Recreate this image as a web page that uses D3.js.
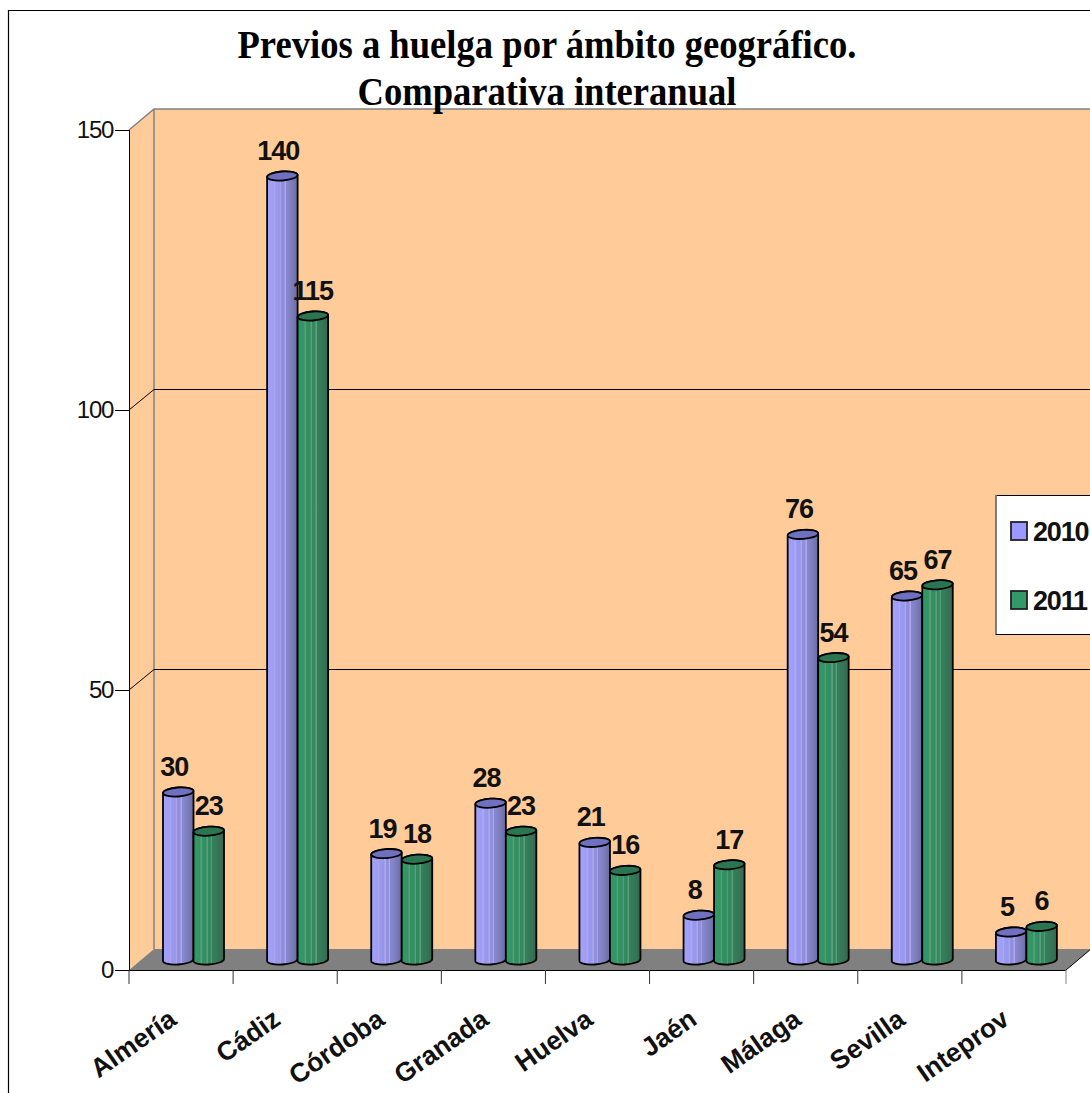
<!DOCTYPE html>
<html>
<head>
<meta charset="utf-8">
<script src="https://cdn.jsdelivr.net/npm/d3@7"></script>
<style>
  html, body { margin: 0; padding: 0; background: white; overflow: hidden; }
  svg { display: block; }
</style>
</head>
<body>
<div id="wrapper"></div>
<script>
const categories = ["Almería", "Cádiz", "Córdoba", "Granada", "Huelva", "Jaén", "Málaga", "Sevilla", "Inteprov"]
const seriesNames = ["2010", "2011"]
const values2010 = [30, 140, 19, 28, 21, 8, 76, 65, 5]
const values2011 = [23, 115, 18, 23, 16, 17, 54, 67, 6]
const yTicks = [0, 50, 100, 150]
const titleLines = ["Previos a huelga por ámbito geográfico.", "Comparativa interanual"]

function drawChart(){

  const dimensions = {
    width: 1090,
    height: 1093,
    plotLeft: 129,
    plotRight: 1066,
    plotTop: 130,
    plotBottom: 970,
    depthX: 25,
    depthY: 21,
  }

  const wrapper = d3.select("#wrapper")
    .append("svg")
      .attr("width", dimensions.width)
      .attr("height", dimensions.height)

  const yScale = d3.scaleLinear()
    .domain([0, 150])
    .range([dimensions.plotBottom, dimensions.plotTop])

  const xScale = d3.scaleBand()
    .domain(categories)
    .range([dimensions.plotLeft, dimensions.plotRight])

  const seriesScale = d3.scaleBand()
    .domain(seriesNames)
    .range([34, 95])

  const seriesStyle = {
    "2010": { values: values2010, light: "#a2a2ff", dark: "#6c6ca0", top: "#7070c0", swatch: "#9999ff", stripe: "#b0a6ea", labelShift: -4 },
    "2011": { values: values2011, light: "#339966", dark: "#35674f", top: "#2b7550", swatch: "#339966", stripe: "#5a9f7c", labelShift: 0 },
  }

  // cylinder shading, stripy like the old office renderer
  const defs = wrapper.append("defs")
  seriesNames.forEach(name => {
    const style = seriesStyle[name]
    const shade = d3.interpolateRgb(style.light, style.dark)
    const gradient = defs.append("linearGradient")
      .attr("id", `cyl${name}`)
    const addStop = (t, color) => gradient.append("stop")
      .attr("offset", t)
      .attr("stop-color", color)
    d3.range(0, 1.001, 0.05).forEach((t, i) => {
      const next = t + 0.05
      const isStripe = [5, 9, 12].includes(i)
      const color = isStripe ? style.stripe : shade(t * t * 0.7 + t * 0.3)
      addStop(t, color)
      if (isStripe) {
        addStop(t + 0.02, color)
        addStop(t + 0.02, shade(next * next * 0.7 + next * 0.3))
      }
    })
  })

  const dx = dimensions.depthX
  const dy = dimensions.depthY
  const left = dimensions.plotLeft
  const right = dimensions.plotRight
  const top = dimensions.plotTop
  const bottom = dimensions.plotBottom

  // chart frame, runs off the page on the right and bottom
  wrapper.append("path")
    .attr("d", `M8.5,1093 V10.5 H1090`)
    .attr("fill", "none")
    .attr("stroke", "black")
    .attr("stroke-width", 1.2)

  // walls
  wrapper.append("path")
    .attr("d", `M${left},${top} L${left + dx},${top - dy} H1090 V${bottom - dy} H${left + dx} L${left},${bottom} Z`)
    .attr("fill", "#ffcc99")

  wrapper.append("path")
    .attr("d", `M${left},${top} L${left + dx},${top - dy} H1090 M${left + dx},${top - dy} V${bottom - dy}`)
    .attr("fill", "none")
    .attr("stroke", "#808080")
    .attr("stroke-width", 1.5)

  // floor
  wrapper.append("path")
    .attr("d", `M${left},${bottom} L${left + dx},${bottom - dy} H${right + dx} L${right},${bottom} Z`)
    .attr("fill", "#808080")

  wrapper.append("path")
    .attr("d", `M${right},${bottom} L${right + dx},${bottom - dy}`)
    .attr("stroke", "black")

  // gridlines, from the front of the side wall along the back wall
  wrapper.selectAll(".grid")
    .data(yTicks.filter(d => d > 0 && d < 150))
    .enter().append("path")
      .attr("class", "grid")
      .attr("d", d => `M${left},${yScale(d)} L${left + dx},${yScale(d) - dy + 0.5} H1090`)
      .attr("fill", "none")
      .attr("stroke", "black")
      .attr("stroke-width", 1)

  // axes
  const yAxisGenerator = d3.axisLeft()
    .scale(yScale)
    .tickValues(yTicks)
    .tickSize(14)
    .tickPadding(2)

  const yAxis = wrapper.append("g")
    .attr("transform", `translate(${left}, 0)`)
    .call(yAxisGenerator)

  yAxis.select(".domain").attr("d", `M0.5,${top} V${bottom}`).attr("stroke", "black")
  yAxis.selectAll("text")
    .attr("fill", "#111")
    .style("font-family", "'Liberation Sans', Arial, sans-serif")
    .style("font-size", "24px")
    .style("letter-spacing", "-1.3px")

  const xAxisGenerator = d3.axisBottom()
    .scale(xScale)
    .tickValues(categories)
    .tickSize(0)
    .tickPadding(0)

  const xAxis = wrapper.append("g")
    .attr("transform", `translate(0, ${bottom})`)
    .call(xAxisGenerator)

  xAxis.select(".domain").attr("d", `M${left},0.5 H${right}`).attr("stroke", "black")

  xAxis.selectAll(".tick text")
    .attr("text-anchor", "end")
    .attr("transform", "translate(-3, 53) rotate(-35)")
    .attr("y", 0)
    .attr("dy", 0)
    .attr("fill", "#111")
    .style("font-family", "'Liberation Sans', Arial, sans-serif")
    .style("font-weight", "bold")
    .style("font-size", "26.5px")

  // tick marks sit on the band edges, not the centres
  xAxis.selectAll(".edge")
    .data(d3.range(categories.length + 1))
    .enter().append("line")
      .attr("class", "edge")
      .attr("x1", i => left + i * xScale.step())
      .attr("x2", i => left + i * xScale.step())
      .attr("y1", 0)
      .attr("y2", 14)
      .attr("stroke", i => i == categories.length ? "#808080" : "#333")

  // cylinders
  const rx = seriesScale.bandwidth() / 2
  const ry = 4.5
  const tilt = 1
  const baseOffset = 10

  seriesNames.forEach(name => {
    const style = seriesStyle[name]
    const group = wrapper.append("g")

    const cylinders = group.selectAll("g")
      .data(categories.map((c, i) => ({ category: c, value: style.values[i] })))
      .enter().append("g")
        .attr("transform", d => `translate(${xScale(d.category) + seriesScale(name)}, 0)`)

    cylinders.append("path")
      .attr("d", d => {
        const base = yScale(0) - baseOffset
        const topY = yScale(d.value) - baseOffset
        return `M0,${topY + tilt} L0,${base + tilt}`
          + ` A${rx},${ry} -4 0 0 ${rx * 2},${base - tilt}`
          + ` L${rx * 2},${topY - tilt}`
          + ` A${rx},${ry} -4 0 0 0,${topY + tilt} Z`
      })
      .attr("fill", `url(#cyl${name})`)
      .attr("stroke", "black")
      .attr("stroke-width", 1.8)

    cylinders.append("ellipse")
      .attr("cx", rx)
      .attr("cy", d => yScale(d.value) - baseOffset)
      .attr("rx", rx)
      .attr("ry", ry)
      .attr("transform", d => `rotate(-4 ${rx} ${yScale(d.value) - baseOffset})`)
      .attr("fill", style.top)
      .attr("stroke", "black")
      .attr("stroke-width", 1.8)

    cylinders.append("text")
      .attr("x", rx + style.labelShift)
      .attr("y", d => yScale(d.value) - baseOffset - 16)
      .attr("text-anchor", "middle")
      .attr("fill", "#111")
      .style("font-family", "'Liberation Sans', Arial, sans-serif")
      .style("font-weight", "bold")
      .style("font-size", "27px")
      .style("letter-spacing", "-1px")
      .text(d => d.value)
  })

  // legend
  const legend = wrapper.append("g")

  legend.append("rect")
    .attr("x", 996)
    .attr("y", 495.5)
    .attr("width", 110)
    .attr("height", 139)
    .attr("fill", "white")
    .attr("stroke", "black")

  legend.append("line")
    .attr("x1", 996)
    .attr("x2", 996)
    .attr("y1", 495)
    .attr("y2", 634)
    .attr("stroke", "#808080")
    .attr("stroke-width", 1.5)

  const legendY = d3.scalePoint()
    .domain(seriesNames)
    .range([531, 600])

  const legendItems = legend.selectAll(".item")
    .data(seriesNames)
    .enter().append("g")
      .attr("class", "item")
      .attr("transform", d => `translate(0, ${legendY(d)})`)

  legendItems.append("rect")
    .attr("x", 1011)
    .attr("y", -9)
    .attr("width", 16)
    .attr("height", 18)
    .attr("fill", d => seriesStyle[d].swatch)
    .attr("stroke", "#222")
    .attr("stroke-width", 1.8)

  legendItems.append("text")
    .attr("x", 1033)
    .attr("y", 10)
    .attr("fill", "#111")
    .style("font-family", "'Liberation Sans', Arial, sans-serif")
    .style("font-weight", "bold")
    .style("font-size", "27px")
    .style("letter-spacing", "-1.2px")
    .text(d => d)

  // title goes last, the second line overlaps the wall edge
  wrapper.selectAll(".title")
    .data(titleLines)
    .enter().append("text")
      .attr("class", "title")
      .attr("x", 547)
      .attr("y", (d, i) => 58 + i * 47)
      .attr("text-anchor", "middle")
      .attr("textLength", (d, i) => i == 0 ? 619 : 379)
      .attr("lengthAdjust", "spacingAndGlyphs")
      .attr("fill", "black")
      .style("font-family", "'Liberation Serif', 'Times New Roman', serif")
      .style("font-weight", "bold")
      .style("font-size", "41px")
      .text(d => d)
}

drawChart()
</script>
</body>
</html>
